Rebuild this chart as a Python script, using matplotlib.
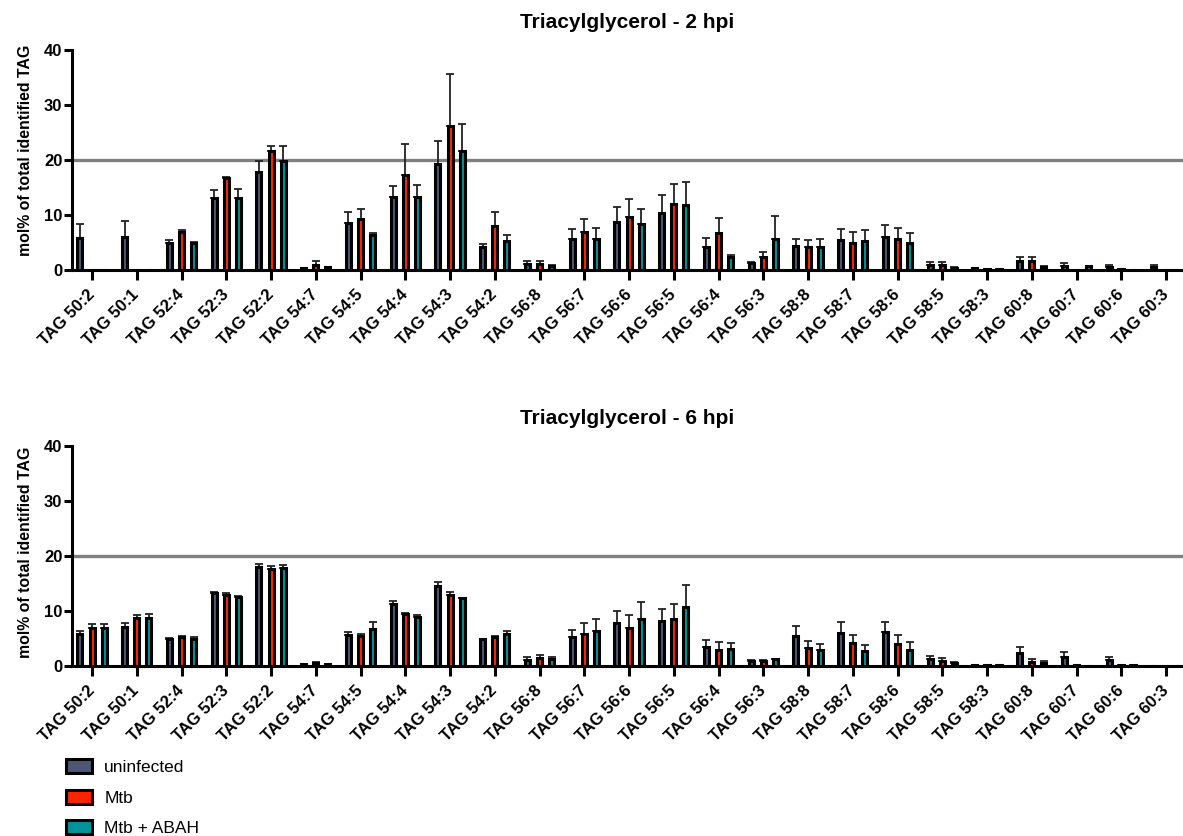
import numpy as np
import matplotlib
matplotlib.use("Agg")
import matplotlib.pyplot as plt
from matplotlib.patches import Patch

plt.rcParams['font.family'] = ['Liberation Sans', 'DejaVu Sans']

categories = ["TAG 50:2", "TAG 50:1", "TAG 52:4", "TAG 52:3", "TAG 52:2",
              "TAG 54:7", "TAG 54:5", "TAG 54:4", "TAG 54:3", "TAG 54:2",
              "TAG 56:8", "TAG 56:7", "TAG 56:6", "TAG 56:5", "TAG 56:4",
              "TAG 56:3", "TAG 58:8", "TAG 58:7", "TAG 58:6", "TAG 58:5",
              "TAG 58:3", "TAG 60:8", "TAG 60:7", "TAG 60:6", "TAG 60:3"]

group_names = ["uninfected", "Mtb", "Mtb + ABAH"]
group_colors = ["#4a5875", "#ff2400", "#00939b"]

# 2 hpi: mean and SD (mol% of total identified TAG)
uninf_2h = [5.8, 6.0, 4.9, 13.1, 17.9, 0.35, 8.5, 13.2, 19.3, 4.1, 1.1, 5.6, 8.8,
            10.3, 4.1, 1.2, 4.3, 5.5, 6.0, 1.0, 0.3, 1.6, 0.8, 0.5, 0.5]
uninf_2h_sd = [2.5, 3.0, 0.6, 1.5, 2.0, 0.05, 2.1, 2.0, 4.2, 0.7, 0.5, 1.8, 2.7,
               3.3, 1.7, 0.2, 1.4, 2.0, 2.1, 0.5, 0.05, 0.7, 0.5, 0.35, 0.35]
mtb_2h = [0, 0, 7.0, 16.8, 21.6, 1.0, 9.3, 17.3, 26.2, 8.0, 1.1, 6.9, 9.7,
          12.0, 6.7, 2.3, 4.1, 5.0, 5.7, 0.9, 0.1, 1.7, 0.0, 0.1, 0.05]
mtb_2h_sd = [0, 0, 0.2, 0.15, 1.0, 0.6, 1.8, 5.7, 9.4, 2.6, 0.6, 2.3, 3.3,
             3.7, 2.8, 0.9, 1.4, 1.9, 2.0, 0.6, 0, 0.7, 0, 0, 0]
abah_2h = [0, 0, 5.0, 13.1, 19.8, 0.5, 6.3, 13.2, 21.6, 5.3, 0.7, 5.7, 8.4,
           11.9, 2.3, 5.7, 4.1, 5.2, 4.9, 0.4, 0.2, 0.5, 0.7, 0.05, 0.05]
abah_2h_sd = [0, 0, 0.1, 1.7, 2.8, 0.1, 0.5, 2.2, 5.0, 1.0, 0.15, 2.0, 2.7,
              4.1, 0.5, 4.1, 1.5, 2.0, 1.8, 0.1, 0.05, 0.3, 0.05, 0, 0]

# 6 hpi: mean and SD
uninf_6h = [5.8, 7.1, 4.9, 13.2, 18.0, 0.3, 5.7, 11.2, 14.5, 4.9, 1.15, 5.3, 7.9,
            8.25, 3.5, 1.0, 5.5, 6.0, 6.1, 1.3, 0.2, 2.4, 1.7, 1.15, 0.05]
uninf_6h_sd = [0.6, 0.8, 0.15, 0.3, 0.6, 0.05, 0.4, 0.7, 0.7, 0.1, 0.5, 1.3, 2.1,
               2.1, 1.3, 0.1, 1.8, 1.95, 1.9, 0.55, 0.05, 1.0, 0.85, 0.55, 0]
mtb_6h = [7.0, 8.7, 5.2, 12.9, 17.6, 0.5, 5.5, 9.4, 12.9, 5.2, 1.45, 5.9, 7.0,
          8.5, 3.0, 1.0, 3.3, 4.1, 4.0, 1.0, 0.2, 0.65, 0.1, 0.1, 0.05]
mtb_6h_sd = [0.6, 0.6, 0.2, 0.3, 0.6, 0.15, 0.4, 0.3, 0.6, 0.35, 0.5, 2.0, 2.2,
             2.8, 1.3, 0.1, 1.3, 1.6, 1.6, 0.4, 0.05, 0.55, 0, 0, 0]
abah_6h = [7.0, 8.7, 5.0, 12.5, 17.9, 0.4, 6.7, 8.9, 12.3, 5.9, 1.3, 6.4, 8.6,
           10.7, 3.1, 1.2, 2.85, 2.7, 3.0, 0.5, 0.15, 0.6, 0.05, 0.1, 0.05]
abah_6h_sd = [0.6, 0.7, 0.2, 0.25, 0.55, 0.05, 1.3, 0.4, 0.15, 0.4, 0.4, 2.2, 3.1,
              4.1, 1.15, 0.15, 1.15, 1.2, 1.3, 0.3, 0.05, 0.4, 0, 0, 0]

panels = [
    ("Triacylglycerol - 2 hpi", [uninf_2h, mtb_2h, abah_2h], [uninf_2h_sd, mtb_2h_sd, abah_2h_sd], 0.545),
    ("Triacylglycerol - 6 hpi", [uninf_6h, mtb_6h, abah_6h], [uninf_6h_sd, mtb_6h_sd, abah_6h_sd], 0.515),
]

fig = plt.figure(figsize=(11.83, 8.36), dpi=100)
axes_rects = [[0.0609, 0.677, 0.9391, 0.2632], [0.0609, 0.2033, 0.9391, 0.2632]]

x = np.arange(len(categories))
offsets = [-0.27, 0.0, 0.27]
bar_w = 0.112

for rect, (title, means, sds, label_y) in zip(axes_rects, panels):
    ax = fig.add_axes(rect)
    ax.axhline(20, color="#808080", lw=2.4, zorder=1)
    for off, m, s, c in zip(offsets, means, sds, group_colors):
        m = np.asarray(m, float)
        s = np.asarray(s, float)
        ax.errorbar(x + off, m, yerr=[np.zeros_like(s), s], fmt="none",
                    ecolor="#222222", elinewidth=1.3, capsize=2.6, capthick=1.3,
                    zorder=2)
        ax.bar(x + off, m, width=bar_w, color=c, edgecolor="black",
               linewidth=2.2, zorder=3)
    ax.set_xlim(-0.447, 24.38)
    ax.set_ylim(0, 40)
    ax.set_yticks([0, 10, 20, 30, 40])
    ax.set_xticks(x)
    ax.set_xticklabels(categories, rotation=45, ha="right", va="center",
                       rotation_mode="anchor", fontsize=12, fontweight="bold")
    for lab in ax.get_yticklabels():
        lab.set_fontweight("bold")
        lab.set_fontsize(12)
    ax.tick_params(axis="x", length=7, width=2.2, pad=9)
    ax.tick_params(axis="y", length=6, width=2.2, pad=1)
    for side in ("top", "right"):
        ax.spines[side].set_visible(False)
    for side in ("left", "bottom"):
        ax.spines[side].set_linewidth(2.2)
    ax.set_ylabel("mol% of total identified TAG", fontsize=11.4, fontweight="bold")
    ax.yaxis.set_label_coords(-0.0351, label_y)
    ax.set_title(title, fontsize=15, fontweight="bold", pad=16)

handles = [Patch(facecolor=c, edgecolor="black", linewidth=2.2) for c in group_colors]
fig.legend(handles, group_names, loc="upper left",
           bbox_to_anchor=(66 / 1183, 1 - 759 / 836), frameon=False,
           fontsize=12.5, handlelength=1.5, handleheight=0.85, handletextpad=0.7,
           labelspacing=0.85, borderpad=0, borderaxespad=0)

fig.savefig("out.png", dpi=100)
